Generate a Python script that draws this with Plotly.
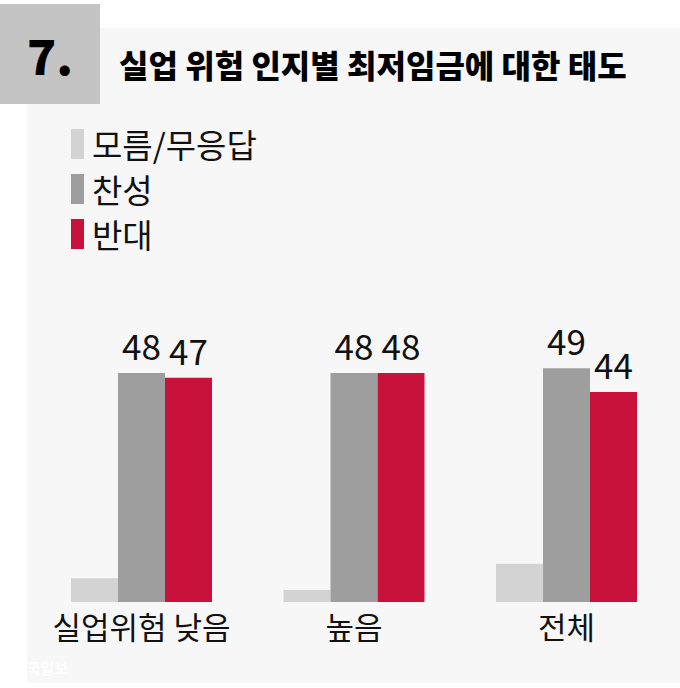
import plotly.graph_objects as go

# ---- data ----
categories = ["실업위험 낮음", "높음", "전체"]
series_names = ["모름/무응답", "찬성", "반대"]
dont_know = [5, 2.5, 8]
agree = [48, 48, 49]
oppose = [47, 48, 44]
title_text = "실업 위험 인지별 최저임금에 대한 태도"
number_text = "7."
credit_text = "한국일보"

colors = ["#d3d3d3", "#9e9e9e", "#c8123c"]
W, H = 680, 688
FONT = "Noto Sans CJK KR"


def px(x):
    return x / W


def py(y):
    return 1 - y / H


fig = go.Figure()
values = [dont_know, agree, oppose]
for i, (name, vals) in enumerate(zip(series_names, values)):
    fig.add_trace(go.Bar(
        x=categories, y=vals, name=name,
        marker=dict(color=colors[i], line=dict(width=0)),
        text=None if i == 0 else [f"{v:g}" for v in vals],
        textposition="outside",
        textfont=dict(family=FONT, size=35, color="#111111"),
        cliponaxis=False,
        showlegend=False,
    ))

shapes = [
    dict(type="rect", xref="paper", yref="paper", x0=px(27), x1=px(680), y0=py(683), y1=py(28),
         fillcolor="#f7f7f7", line=dict(width=0), layer="below"),
    dict(type="rect", xref="paper", yref="paper", x0=px(0), x1=px(100), y0=py(104), y1=py(4),
         fillcolor="#c4c4c4", line=dict(width=0), layer="below"),
]

annotations = [
    dict(text=number_text, xref="paper", yref="paper", x=px(50), y=py(54), xanchor="center", yanchor="middle",
         showarrow=False, font=dict(family=FONT, size=48, color="#000000", weight=900)),
    dict(text=title_text, xref="paper", yref="paper", x=px(117), y=py(64), xanchor="left", yanchor="middle",
         showarrow=False, font=dict(family=FONT, size=32, color="#000000", weight=900)),
    dict(text=credit_text, xref="paper", yref="paper", x=px(11), y=py(667), xanchor="left", yanchor="middle",
         showarrow=False, font=dict(family=FONT, size=15, color="#ffffff", weight="bold")),
]

legend_y = [144, 189, 234]
for name, col, yc in zip(series_names, colors, legend_y):
    shapes.append(dict(type="rect", xref="paper", yref="paper", x0=px(71), x1=px(84),
                       y0=py(yc + 15), y1=py(yc - 15), fillcolor=col, line=dict(width=0)))
    annotations.append(dict(text=name, xref="paper", yref="paper", x=px(90), y=py(yc), xanchor="left",
                            yanchor="middle", showarrow=False,
                            font=dict(family=FONT, size=33, color="#111111")))

fig.update_layout(
    width=W, height=H,
    margin=dict(l=0, r=0, t=0, b=0),
    paper_bgcolor="#ffffff",
    plot_bgcolor="rgba(0,0,0,0)",
    barmode="group",
    bargap=0.3365,
    bargroupgap=0,
    shapes=shapes,
    annotations=annotations,
    xaxis=dict(domain=[35.25 / W, 672.75 / W], showgrid=False, zeroline=False, showline=False,
               ticks="", ticklabelstandoff=5,
               tickfont=dict(family=FONT, size=31, color="#111111"), fixedrange=True),
    yaxis=dict(domain=[py(602), py(602 - 60 * 4.77)], range=[0, 60], visible=False, fixedrange=True),
    font=dict(family=FONT),
)

fig.write_html("out.html")
